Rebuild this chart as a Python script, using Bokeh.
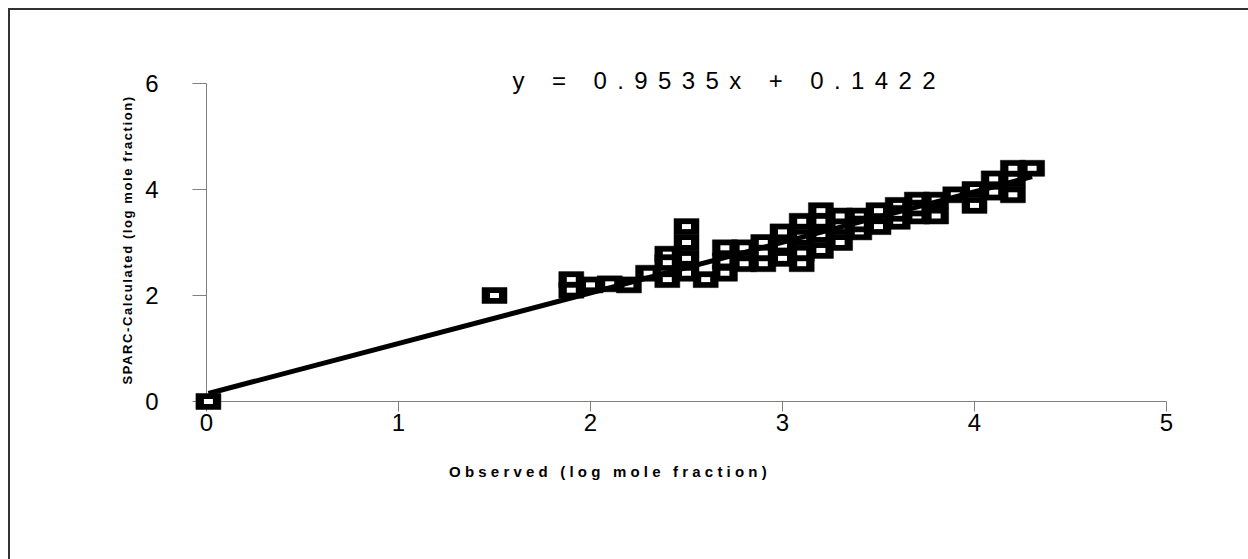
import math
from bokeh.plotting import figure
from bokeh.layouts import row, column
from bokeh.models import Range1d, Label, FixedTicker
from bokeh.embed import file_html
from bokeh.resources import INLINE

# ---- data ----
obs_x = [2.4, 2.4, 2.5, 2.7, 2.7, 2.8, 2.8, 2.9, 2.9, 3.0, 3.0, 3.1, 3.2, 3.2,
         3.3, 3.3, 3.3, 3.4, 3.4, 3.4, 3.5, 3.6, 3.6, 3.6, 3.7, 3.7, 3.7, 3.8,
         3.9, 4.0, 4.1, 4.1, 4.2,
         0.01, 1.5, 1.9, 1.9, 2.0, 2.1, 2.2, 2.3, 2.4, 2.5, 2.5, 2.5, 2.6,
         2.7, 2.9, 3.0, 3.1, 3.1, 3.1, 3.2, 3.2, 3.5, 3.8, 4.0, 4.2, 4.2, 4.3]
calc_y = [2.78, 2.62, 2.42, 2.42, 2.65, 2.9, 2.6, 3.0, 2.8, 2.7, 2.95, 3.1, 2.85, 3.15,
          3.0, 3.3, 3.5, 3.5, 3.2, 3.35, 3.3, 3.7, 3.4, 3.55, 3.8, 3.5, 3.65, 3.8,
          3.9, 4.0, 4.2, 3.95, 4.2,
          0.0, 2.0, 2.3, 2.1, 2.2, 2.22, 2.2, 2.42, 2.3, 3.3, 3.0, 2.7, 2.3,
          2.9, 2.6, 3.2, 3.4, 2.8, 2.6, 3.6, 3.4, 3.6, 3.5, 3.7, 3.9, 4.4, 4.4]
x_ticks = [0, 1, 2, 3, 4, 5]
y_ticks = [0, 2, 4, 6]
slope = 0.9535
intercept = 0.1422
eq_text = "y = 0.9535x + 0.1422"
x_title = "Observed (log mole fraction)"
y_title = "SPARC-Calculated  (log mole fraction)"

FONT = "Liberation Sans"


def bare_fig(w, h):
    f = figure(width=w, height=h, output_backend="svg", toolbar_location=None,
               x_range=Range1d(0, w), y_range=Range1d(0, h),
               x_axis_type=None, y_axis_type=None, min_border=0,
               background_fill_color="white", border_fill_color="white")
    f.outline_line_color = None
    return f


# ---------------- main plot ----------------
p = figure(
    output_backend="svg", toolbar_location=None,
    x_range=Range1d(0, 5), y_range=Range1d(0, 6 + 30 / 53),
    frame_width=960, frame_height=348,
    min_border_left=66, min_border_right=82, min_border_top=43, min_border_bottom=44,
    background_fill_color="white", border_fill_color="white",
)
p.styles = {"letter-spacing": "10.4px"}
p.outline_line_color = None
p.grid.visible = False

for ax, ticks, bnd in ((p.xaxis[0], x_ticks, (0, 5)), (p.yaxis[0], y_ticks, (0, 6))):
    ax.ticker = FixedTicker(ticks=ticks)
    ax.bounds = bnd
    ax.axis_line_color = "#808080"
    ax.axis_line_width = 1
    ax.major_tick_line_color = "#808080"
    ax.major_tick_in = 0
    ax.minor_tick_line_color = None
    ax.major_label_text_font = FONT
    ax.major_label_text_font_size = "24px"
    ax.major_label_text_color = "black"

p.xaxis.major_tick_out = 10
p.xaxis.major_label_standoff = 2
p.yaxis.major_tick_out = 14
p.yaxis.major_label_standoff = 34

for xv, yv in zip(obs_x, calc_y):
    r1 = p.rect(x=[xv], y=[yv], width=25, height=16, width_units="screen", height_units="screen",
                fill_color="black", line_color="black", line_width=0.5)
    r2 = p.rect(x=[xv], y=[yv], width=9, height=5, width_units="screen", height_units="screen",
                fill_color="white", line_color=None)
    r1.level = "overlay"
    r2.level = "overlay"

x0, x1 = min(obs_x), max(obs_x)
tl = p.line(x=[x0, x1], y=[slope * x0 + intercept, slope * x1 + intercept],
            line_color="black", line_width=5)
tl.level = "overlay"

p.add_layout(Label(x=1.594, y=6.057, text=eq_text, text_align="left", text_baseline="middle",
                   text_font=FONT, text_font_size="24px", text_color="black"))

# ---------------- axis titles ----------------
yt = bare_fig(130, 549)
yt.styles = {"letter-spacing": "1.6px"}
yt.add_layout(Label(x=117, y=175, text=y_title, angle=math.pi / 2,
                    text_align="left", text_baseline="middle",
                    text_font=FONT, text_font_size="13px", text_font_style="bold",
                    text_color="black"))

xt = bare_fig(1108, 114)
xt.styles = {"letter-spacing": "4.2px"}
xt.add_layout(Label(x=280, y=88, text=x_title, text_align="left", text_baseline="middle",
                    text_font=FONT, text_font_size="15px", text_font_style="bold",
                    text_color="black"))

layout = row(yt, column(p, xt))
layout.styles = {"margin-left": "8px", "margin-top": "8px",
                 "border-left": "2px solid #333333", "border-top": "2px solid #333333"}

open("out.html", "w").write(file_html(layout, INLINE))
